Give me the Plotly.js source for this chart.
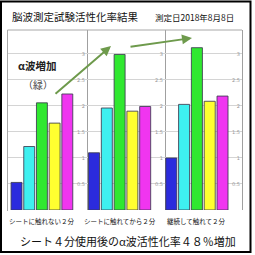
<!DOCTYPE html>
<html>
<head>
<meta charset="utf-8">
<script src="https://cdn.plot.ly/plotly-3.0.1.min.js"></script>
<style>html,body{margin:0;padding:0;background:#fff;}#chart{width:255px;height:255px;}</style>
</head>
<body>
<div id="chart"></div>
<script>
// ---- data ----
const groupLabels = ["シートに触れない２分", "シートに触れてから２分", "継続して触れて２分"];
const barNames = ["青", "水色", "緑", "黄", "ピンク"];
const barColors = ["#2b2bdd", "#3ef0f0", "#30e830", "#ffff30", "#f035f0"];
const panel1Values = [0.53, 1.22, 2.06, 1.67, 2.23];
const panel2Values = [1.10, 1.96, 2.99, 1.90, 1.99];
const panel3Values = [1.00, 2.03, 3.12, 2.09, 2.19];
const tickValues = [0, 0.5, 1, 1.5, 2, 2.5, 3];
const tickLabels = ["0", "0.5", "1", "1.5", "2", "2.5", "3"];
const titleText = "脳波測定試験活性化率結果";
const dateText = "測定日2018年8月8日";
const footerText = "シート４分使用後のα波活性化率４８％増加";
const noteLine1 = "α波増加";
const noteLine2 = "（緑）";

const W = 255, H = 255;
const px = v => v / W;
const py = v => 1 - v / H;
const FONT = "Noto Sans CJK JP, sans-serif";

const panels = [panel1Values, panel2Values, panel3Values];
const xDomains = [[px(7.5), px(87)], [px(87), px(165)], [px(165), px(242)]];
const xRanges = [[-0.71, 5.55], [-0.55, 5.55], [-0.49, 5.52]];
const yDomain = [py(210), py(30)];

const traces = panels.map((vals, i) => ({
  type: "bar",
  x: barNames,
  y: vals,
  xaxis: i === 0 ? "x" : "x" + (i + 1),
  yaxis: i === 0 ? "y" : "y" + (i + 1),
  width: 0.86,
  marker: { color: barColors, line: { color: "rgba(60,60,80,0.85)", width: 1 } },
  hoverinfo: "skip",
  showlegend: false
}));

const layout = {
  width: W, height: H,
  margin: { l: 0, r: 0, t: 0, b: 0 },
  paper_bgcolor: "#fff",
  plot_bgcolor: "#fff",
  showlegend: false,
  bargap: 0,
  annotations: [],
  shapes: [
    // outer black frame
    { type: "rect", xref: "paper", yref: "paper", x0: px(1), x1: px(250.5), y0: py(252), y1: py(1.5),
      line: { color: "#000", width: 2 } },
    // plot frame top and left
    { type: "line", xref: "paper", yref: "paper", x0: px(7.5), x1: px(242), y0: py(30), y1: py(30),
      line: { color: "#a8a8a8", width: 1 } },
    { type: "line", xref: "paper", yref: "paper", x0: px(7.5), x1: px(7.5), y0: py(30), y1: py(211),
      line: { color: "#a8a8a8", width: 1 } }
  ]
};

for (let i = 0; i < 3; i++) {
  const s = i === 0 ? "" : String(i + 1);
  layout["xaxis" + s] = {
    domain: xDomains[i], range: xRanges[i], type: "category",
    anchor: "y" + s, showticklabels: false, showgrid: false, zeroline: false, showline: false,
    fixedrange: true
  };
  layout["yaxis" + s] = {
    domain: yDomain, range: [0, 3.46], anchor: "x" + s, side: "right",
    tickmode: "array", tickvals: tickValues, ticktext: tickLabels,
    ticklabelposition: "inside", ticks: "",
    tickfont: { size: 5, color: "#999", family: "DejaVu Sans, sans-serif" },
    showgrid: true, gridcolor: "#d4d4d4", gridwidth: 1,
    zeroline: false, showline: true, linecolor: "#a0a0a0", linewidth: 1,
    fixedrange: true
  };
  layout.annotations.push({
    xref: "x" + s, yref: "paper", x: 2, y: py(221),
    text: groupLabels[i], showarrow: false, xanchor: "center", yanchor: "middle",
    font: { size: 6.5, color: "#111", family: FONT }
  });
}

layout.annotations.push(
  { xref: "paper", yref: "paper", x: px(10), y: py(16), text: titleText, showarrow: false,
    xanchor: "left", yanchor: "middle", font: { size: 10.5, color: "#111", family: FONT } },
  { xref: "paper", yref: "paper", x: px(153), y: py(17), text: dateText, showarrow: false,
    xanchor: "left", yanchor: "middle", font: { size: 8.5, color: "#111", family: FONT } },
  { xref: "paper", yref: "paper", x: px(128), y: py(241), text: footerText, showarrow: false,
    xanchor: "center", yanchor: "middle", font: { size: 11, color: "#111", family: FONT } },
  { xref: "paper", yref: "paper", x: px(16), y: py(65), text: "<b>" + noteLine1 + "</b>", showarrow: false,
    xanchor: "left", yanchor: "middle", font: { size: 10.5, color: "#222", family: FONT } },
  { xref: "paper", yref: "paper", x: px(21), y: py(85), text: noteLine2, showarrow: false,
    xanchor: "left", yanchor: "middle", font: { size: 10, color: "#444", family: FONT } },
  // arrows
  { xref: "paper", yref: "paper", x: px(111), y: py(46), ax: -57, ay: 49, text: "",
    showarrow: true, arrowhead: 2, arrowsize: 1, arrowwidth: 2, arrowcolor: "#6e9a4c" },
  { xref: "paper", yref: "paper", x: px(192), y: py(38), ax: -63, ay: 9, text: "",
    showarrow: true, arrowhead: 2, arrowsize: 1, arrowwidth: 2, arrowcolor: "#6e9a4c" }
);

Plotly.newPlot("chart", traces, layout, { staticPlot: true, displayModeBar: false });
</script>
</body>
</html>
